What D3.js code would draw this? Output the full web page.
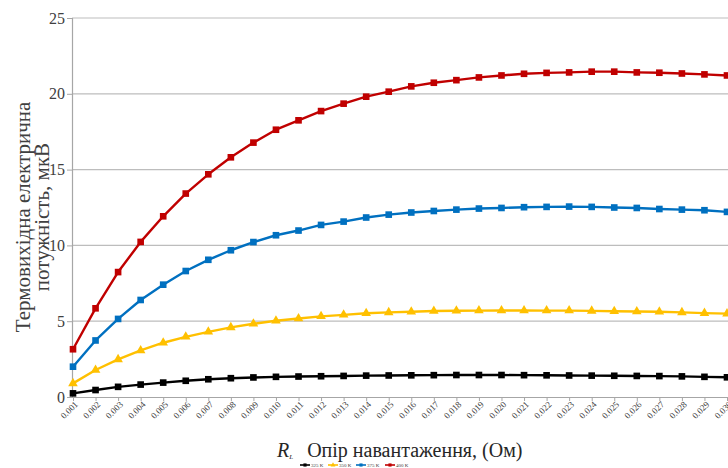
<!DOCTYPE html>
<html>
<head>
<meta charset="utf-8">
<script src="https://cdn.jsdelivr.net/npm/d3@7"></script>
</head>
<body style="margin:0">
<svg id="chart" width="728" height="468"></svg>
<script>
// Load resistance categories, Ом
const categories = ["0.001","0.002","0.003","0.004","0.005","0.006","0.007","0.008","0.009","0.010",
  "0.011","0.012","0.013","0.014","0.015","0.016","0.017","0.018","0.019","0.020",
  "0.021","0.022","0.023","0.024","0.025","0.026","0.027","0.028","0.029","0.030"];

// Thermoelectric power, мкВ, per temperature
const p325 = [0.24,0.46,0.67,0.82,0.95,1.07,1.17,1.24,1.29,1.33,1.35,1.37,1.39,1.41,1.42,1.43,1.44,1.45,1.45,1.45,
  1.44,1.43,1.42,1.41,1.40,1.39,1.38,1.36,1.33,1.30];
const p350 = [0.90,1.78,2.48,3.07,3.58,3.97,4.30,4.59,4.83,5.03,5.18,5.32,5.42,5.52,5.58,5.62,5.67,5.69,5.70,5.71,
  5.71,5.70,5.70,5.68,5.66,5.64,5.62,5.58,5.53,5.50];
const p375 = [2.00,3.73,5.15,6.40,7.41,8.31,9.05,9.68,10.22,10.67,10.98,11.35,11.57,11.84,12.03,12.17,12.27,12.36,12.43,12.47,
  12.52,12.54,12.56,12.54,12.50,12.47,12.40,12.36,12.32,12.21];
const p400 = [3.15,5.85,8.24,10.23,11.92,13.42,14.69,15.81,16.78,17.63,18.25,18.86,19.35,19.81,20.14,20.49,20.73,20.90,21.08,21.21,
  21.32,21.38,21.41,21.46,21.46,21.41,21.39,21.34,21.28,21.21];

const yTicks = [0, 5, 10, 15, 20, 25];
const seriesNames = ["325 K", "350 K", "375 K", "400 K"];
const seriesValues = [p325, p350, p375, p400];
const seriesColors = ["#000000", "#FFC000", "#0070C0", "#C00000"];
const seriesMarkers = ["square", "triangle", "square", "square"];

const SERIF = "'Liberation Serif'";
const svg = d3.select("#chart");
const plotLeft = 73, plotRight = 727, plotTop = 18, plotBottom = 397;

const x = d3.scalePoint().domain(categories).range([plotLeft, plotRight]);
const y = d3.scaleLinear().domain([0, 25]).range([plotBottom, plotTop]);

// Horizontal gridlines
svg.append("g")
  .selectAll("line")
  .data(yTicks.filter(t => t > 0))
  .join("line")
  .attr("x1", plotLeft - 1).attr("x2", 728)
  .attr("y1", d => y(d)).attr("y2", d => y(d))
  .attr("stroke", "#bdbdbd").attr("stroke-width", 1.2);

// Y axis
const yAxis = svg.append("g")
  .attr("transform", `translate(${plotLeft - 1},0)`)
  .call(d3.axisLeft(y).tickValues(yTicks).tickSize(5).tickPadding(2).tickFormat(d3.format("d")));
yAxis.select(".domain").attr("stroke", "#a6a6a6").attr("stroke-width", 1.2);
yAxis.selectAll(".tick line").attr("stroke", "#a6a6a6");
yAxis.selectAll(".tick text")
  .style("font-family", SERIF)
  .attr("font-size", 16).attr("fill", "#404040");

// X axis
const xAxis = svg.append("g")
  .attr("transform", `translate(0,${plotBottom})`)
  .call(d3.axisBottom(x).tickSize(4).tickSizeOuter(0));
xAxis.select(".domain").attr("stroke", "#a6a6a6").attr("stroke-width", 1.2);
xAxis.selectAll(".tick line").attr("stroke", "#a6a6a6");
xAxis.selectAll(".tick text")
  .style("font-family", SERIF)
  .attr("font-size", 9).attr("fill", "#404040")
  .attr("text-anchor", "end")
  .attr("dy", 0)
  .attr("y", 0)
  .attr("transform", "translate(5,8) rotate(-45)");

// Series lines and markers
const line = d3.line().x((d, i) => x(categories[i])).y(d => y(d));
const symSquare = d3.symbol().type(d3.symbolSquare).size(44);
const symTri = d3.symbol().type(d3.symbolTriangle).size(40);

seriesValues.forEach((vals, s) => {
  const g = svg.append("g");
  g.append("path")
    .datum(vals)
    .attr("d", line)
    .attr("fill", "none")
    .attr("stroke", seriesColors[s])
    .attr("stroke-width", 2.4)
    .attr("stroke-linejoin", "round");
  g.selectAll("path.m")
    .data(vals)
    .join("path")
    .attr("class", "m")
    .attr("d", seriesMarkers[s] === "triangle" ? symTri() : symSquare())
    .attr("transform", (d, i) => `translate(${x(categories[i])},${y(d)})`)
    .attr("fill", seriesColors[s]);
});

// Y axis title
const yTitle = svg.append("text")
  .attr("transform", "translate(30,217) rotate(-90)")
  .attr("text-anchor", "middle")
  .style("font-family", SERIF)
  .attr("font-size", 21)
  .attr("fill", "#404040");
yTitle.append("tspan").attr("x", 0).attr("dy", 0).text("Термовихідна електрична");
yTitle.append("tspan").attr("x", 0).attr("dy", 19).text("потужність, мкВ");

// X axis title
const xTitle = svg.append("text")
  .attr("x", 277).attr("y", 457)
  .style("font-family", SERIF)
  .attr("font-size", 20)
  .attr("fill", "#262626");
xTitle.append("tspan").attr("font-style", "italic").text("R");
xTitle.append("tspan").attr("font-style", "italic").attr("font-size", 7).attr("dy", 2).text("L");
xTitle.append("tspan").attr("dy", -2).attr("dx", 14).text("Опір навантаження, (Ом)");

// Legend
const legendX = [300, 328, 356, 385];
const legend = svg.append("g");
seriesNames.forEach((name, s) => {
  const lg = legend.append("g").attr("transform", `translate(${legendX[s]},465)`);
  lg.append("line").attr("x1", 0).attr("x2", 10).attr("y1", 0).attr("y2", 0)
    .attr("stroke", seriesColors[s]).attr("stroke-width", 1.6);
  lg.append("path")
    .attr("d", d3.symbol().type(seriesMarkers[s] === "triangle" ? d3.symbolTriangle : d3.symbolSquare).size(10)())
    .attr("transform", "translate(5,0)")
    .attr("fill", seriesColors[s]);
  lg.append("text").attr("x", 11).attr("y", 1.6)
    .style("font-family", SERIF)
    .attr("font-size", 5).attr("fill", "#404040").text(name);
});
</script>
</body>
</html>
